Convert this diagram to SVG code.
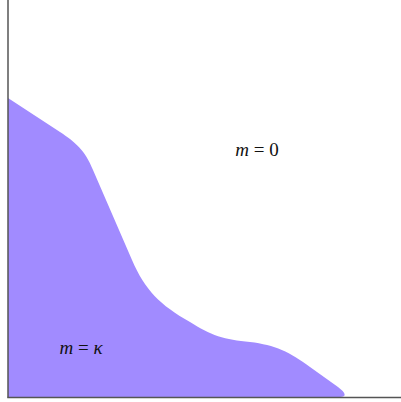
<svg xmlns="http://www.w3.org/2000/svg" width="401" height="402" viewBox="0 0 401 402">
<style>
.axis{stroke:#555;stroke-width:1.5;fill:none}
.lbl{font-family:"Liberation Serif","DejaVu Serif",serif;font-size:19px;fill:#111}
.it{font-style:italic}
</style>
<rect width="401" height="402" fill="#fff"/>
<g id="region">
<path d="M8,98 L60,132 C75,142 85,150 93,170 L132,260 C145,290 160,305 190,322 C210,335 225,340 250,342 C275,345 290,352 310,367 L338,387 C346,393 347,397 340,397 L8,397 Z" fill="#a18bff"/>
</g>
<g id="axes">
<line class="axis" x1="8" y1="0" x2="8" y2="397.5"/>
<line class="axis" x1="7.25" y1="397.5" x2="401" y2="397.5"/>
</g>
<g id="label-m0">
<text class="lbl" x="257" y="156" text-anchor="middle"><tspan class="it">m</tspan> = 0</text>
</g>
<g id="label-mk">
<text class="lbl" x="81" y="354" text-anchor="middle"><tspan class="it">m</tspan> = <tspan class="it">κ</tspan></text>
</g>
</svg>
